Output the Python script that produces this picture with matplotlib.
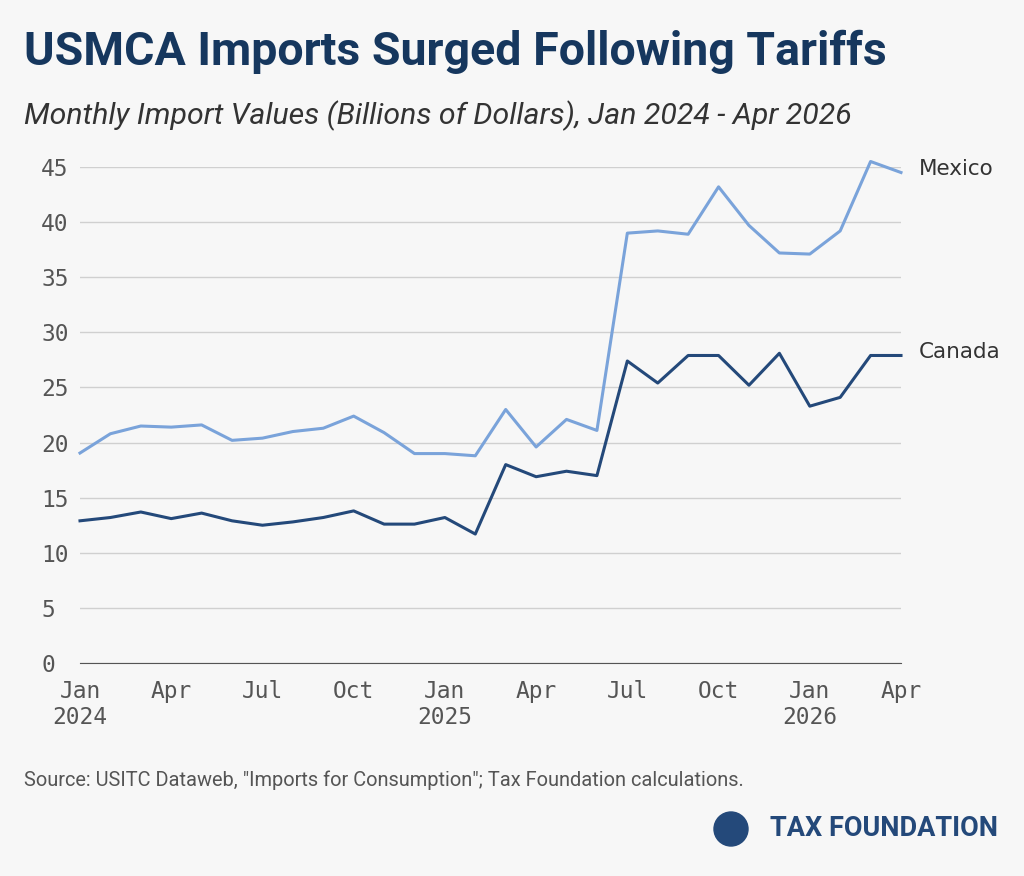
import matplotlib
matplotlib.use("Agg")
import matplotlib.pyplot as plt
from matplotlib.patches import Ellipse

months = list(range(28))
mexico = [19.05,20.8,21.5,21.4,21.6,20.2,20.4,21.0,21.3,22.4,20.9,19.0,19.0,18.8,23.0,19.6,22.1,21.1,39.0,39.2,38.9,43.2,39.7,37.2,37.1,39.2,45.5,44.5]
canada = [12.9,13.2,13.7,13.1,13.6,12.9,12.5,12.8,13.2,13.8,12.6,12.6,13.2,11.7,18.0,16.9,17.4,17.0,27.4,25.4,27.9,27.9,25.2,28.1,23.3,24.1,27.9,27.9]
tick_pos = [0,3,6,9,12,15,18,21,24,27]
tick_labels = ["Jan\n2024","Apr","Jul","Oct","Jan\n2025","Apr","Jul","Oct","Jan\n2026","Apr"]

bg = "#f7f7f7"
fig = plt.figure(figsize=(10.24, 8.76), dpi=100, facecolor=bg)
ax = fig.add_axes([80/1024, 213/876, 821/1024, 496/876], facecolor=bg)
ax.plot(months, mexico, color="#7aa3da", lw=2.2, clip_on=False)
ax.plot(months, canada, color="#24497a", lw=2.2, clip_on=False)
ax.set_xlim(0, 27)
ax.set_ylim(0, 45)
ax.set_yticks(range(0, 46, 5))
ax.set_xticks(tick_pos)
ax.set_xticklabels(tick_labels)
mono = "DejaVu Sans Mono"
for lab in ax.get_xticklabels() + ax.get_yticklabels():
    lab.set_fontfamily(mono); lab.set_fontsize(16.5); lab.set_color("#555555")
ax.tick_params(axis="y", length=0, pad=28)
ax.tick_params(axis="x", length=0, pad=12)
for t in ax.get_yticklabels():
    t.set_horizontalalignment("left")
ax.grid(axis="y", color="#d0d0d0", lw=1)
for s in ["top", "right", "left"]:
    ax.spines[s].set_visible(False)
ax.spines["bottom"].set_color("#555555")
ax.set_axisbelow(True)
ax.text(27.6, mexico[-1] + 0.3, "Mexico", fontsize=15.5, color="#333333", va="center")
ax.text(27.6, canada[-1] + 0.3, "Canada", fontsize=15.5, color="#333333", va="center")

fig.text(24/1024, 1 - 52/876, "USMCA Imports Surged Following Tariffs", fontsize=33.5, fontweight="bold",
         color="#16375e", family="Roboto", va="center")
fig.text(24/1024, 1 - 116/876, "Monthly Import Values (Billions of Dollars), Jan 2024 - Apr 2026", fontsize=21.8,
         style="italic", color="#333333", family="Roboto", va="center")
fig.text(24/1024, 1 - 780/876, "Source: USITC Dataweb, \"Imports for Consumption\"; Tax Foundation calculations.",
         fontsize=14.4, color="#555555", family="Roboto", va="center")
fig.patches.append(Ellipse((731/1024, 1 - 829/876), 34/1024, 34/876, transform=fig.transFigure, color="#24497a"))
fig.text(998/1024, 1 - 829/876, "TAX FOUNDATION", fontsize=19.5, fontweight="bold", color="#24497a",
         family="Roboto", ha="right", va="center")
fig.savefig("out.png", dpi=100, facecolor=bg)
